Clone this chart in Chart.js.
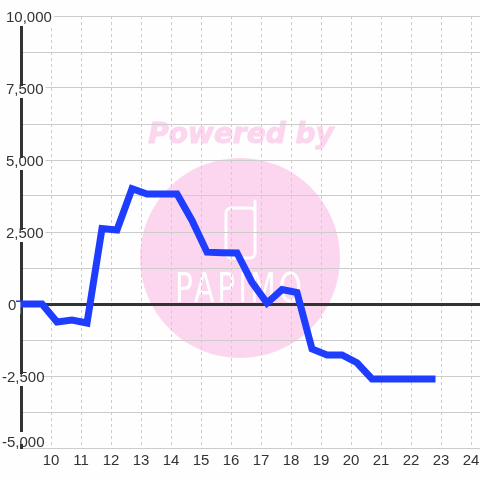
<!DOCTYPE html>
<html>
<head>
<meta charset="utf-8">
<style>
  html, body { margin: 0; padding: 0; background: #fdfefd; }
  #wrap { width: 480px; height: 480px; }
</style>
<script src="https://cdn.jsdelivr.net/npm/chart.js@4"></script>
</head>
<body>
<div id="wrap"><canvas id="chart"></canvas></div>
<script>
// Half-hour readings
const hours = [8.95, 9.7, 10.2, 10.7, 11.2, 11.7, 12.2, 12.7, 13.2, 13.7, 14.2, 14.7, 15.2, 15.7, 16.2, 16.7, 17.2, 17.7, 18.2, 18.7, 19.2, 19.7, 20.2, 20.7, 21.2, 21.7, 22.2, 22.7];
const values = [0, 0, -625, -560, -660, 2620, 2570, 4000, 3820, 3820, 3820, 2900, 1800, 1780, 1770, 750, 30, 500, 400, -1560, -1770, -1770, -2040, -2600, -2600, -2600, -2600, -2600];
const yLabels = ["10,000", "7,500", "5,000", "2,500", "0", "-2,500", "-5,000"];
const yLabelValues = [10000, 7500, 5000, 2500, 0, -2500, -5000];

const textColor = "#333333";
const gridColor = "#cccccc";
const pink = "#fbd6ee";
const paper = "#fdfefd";

// Watermark sits under the grid
const watermark = {
  id: "watermark",
  beforeDraw: (chart) => {
    const { ctx } = chart;
    ctx.save();
    ctx.fillStyle = pink;
    ctx.beginPath();
    ctx.arc(240, 258, 100, 0, Math.PI * 2);
    ctx.fill();

    ctx.font = "italic bold 28px 'DejaVu Sans'";
    ctx.textAlign = "center";
    ctx.textBaseline = "middle";
    ctx.strokeStyle = pink;
    ctx.lineWidth = 1;
    ctx.fillText("Powered by", 241, 136);
    ctx.strokeText("Powered by", 241, 136);

    // phone outline
    ctx.strokeStyle = paper;
    ctx.lineWidth = 3;
    ctx.lineCap = "round";
    ctx.beginPath();
    ctx.roundRect(226, 208, 29, 50, 5);
    ctx.moveTo(255, 212);
    ctx.lineTo(255, 201);
    ctx.stroke();

    ctx.fillStyle = paper;
    ctx.letterSpacing = "4px";
    ctx.font = "41px 'DejaVu Sans'";
    ctx.fillText("PAPIMO", 240, 291, 130);
    ctx.restore();
  },
};

// Tick labels are not quite lined up in the original, nudge them after layout
const nudgeLabels = {
  id: "nudgeLabels",
  beforeDraw: (chart) => {
    chart.scales.y.getLabelItems().forEach((item) => {
      if (item.nudged) return;
      item.nudged = true;
      let dx = 0;
      let dy = 2;
      if (item.label.startsWith("-")) dx = -4;
      if (item.label === "0") dx = 2;
      if (item.label === "-5,000") dy = -5;
      item.options.translation = [item.options.translation[0] + dx, item.options.translation[1] + dy];
      if (item.options.backdrop) {
        item.options.backdrop.left += dx;
        item.options.backdrop.top += dy;
      }
    });
  },
};

new Chart(document.getElementById("chart"), {
  type: "line",
  data: {
    datasets: [
      {
        data: hours.map((h, i) => ({ x: h, y: values[i] })),
        borderColor: "#1f3dff",
        borderWidth: 7,
        borderCapStyle: "square",
        borderJoinStyle: "miter",
        pointRadius: 0,
        tension: 0,
        clip: false,
      },
    ],
  },
  options: {
    animation: false,
    responsive: true,
    maintainAspectRatio: false,
    layout: { padding: { top: 16, right: 0, bottom: 0, left: 0 } },
    plugins: { legend: { display: false }, tooltip: { enabled: false } },
    scales: {
      x: {
        type: "linear",
        min: 9,
        max: 24.3,
        afterBuildTicks: (scale) => {
          scale.ticks = [];
          for (let h = 9; h <= 24; h++) scale.ticks.push({ value: h });
        },
        grid: {
          color: (c) => (c.tick && c.tick.value === 9 ? "transparent" : gridColor),
          lineWidth: 1,
          drawTicks: false,
        },
        border: { display: false, dash: [3, 3] },
        ticks: {
          autoSkip: false,
          maxRotation: 0,
          padding: 4,
          color: textColor,
          font: { family: "'Liberation Sans'", size: 15 },
          callback: (v) => (v === 9 ? "" : String(v)),
        },
        afterFit: (scale) => {
          scale.height = 32;
          scale.paddingLeft = 0;
          scale.paddingRight = 0;
        },
      },
      y: {
        min: -5000,
        max: 10000,
        afterBuildTicks: (scale) => {
          scale.ticks = [];
          for (let v = -5000; v <= 10000; v += 1250) scale.ticks.push({ value: v });
        },
        grid: {
          color: (c) => (c.tick && c.tick.value === 0 ? textColor : gridColor),
          lineWidth: (c) => (c.tick && c.tick.value === 0 ? 3 : 1),
          drawTicks: false,
        },
        border: { color: textColor, width: 3 },
        ticks: {
          z: 1,
          autoSkip: false,
          mirror: true,
          padding: -15,
          color: textColor,
          font: { family: "'Liberation Sans'", size: 15 },
          showLabelBackdrop: (c) => yLabelValues.includes(c.tick.value),
          backdropColor: paper,
          backdropPadding: { top: -3, bottom: -3, left: 2, right: 2 },
          callback: (v) => {
            const i = yLabelValues.indexOf(v);
            return i >= 0 ? yLabels[i] : "";
          },
        },
        afterFit: (scale) => { scale.width = 21; },
      },
    },
  },
  plugins: [watermark, nudgeLabels],
});
</script>
</body>
</html>
